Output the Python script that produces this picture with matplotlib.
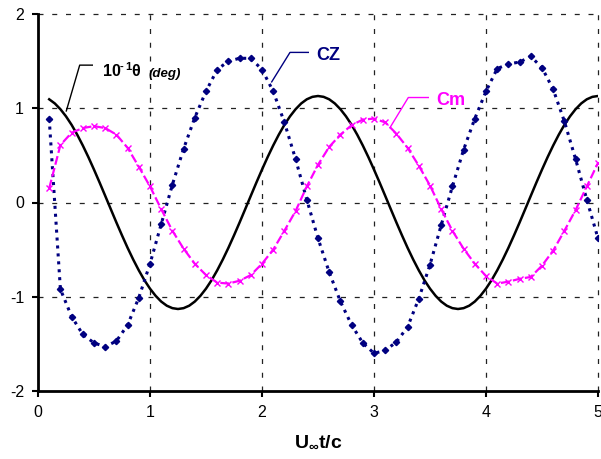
import numpy as np
import matplotlib
matplotlib.use("Agg")
import matplotlib.pyplot as plt

plt.rcParams['font.family'] = ['Liberation Sans', 'DejaVu Sans']
plt.rcParams['axes.unicode_minus'] = False
plt.rcParams['mathtext.fontset'] = 'custom'
plt.rcParams['mathtext.rm'] = 'Liberation Sans'
plt.rcParams['mathtext.bf'] = 'Liberation Sans:bold'
plt.rcParams['mathtext.it'] = 'Liberation Sans:italic'

# ---- data ----
# 10^-1 theta (deg), sampled every 0.05 from t = 0.1 to 5.0
theta_half = [1.095, 1.051, 0.990, 0.914, 0.824, 0.720, 0.605, 0.481, 0.349, 0.212,
              0.071, -0.071, -0.212, -0.349, -0.481, -0.605, -0.720, -0.824, -0.914,
              -0.990, -1.051, -1.095, -1.121, -1.130, -1.121, -1.095, -1.051, -0.990,
              -0.914, -0.824, -0.720, -0.605, -0.481, -0.349, -0.212, -0.071, 0.071,
              0.212, 0.349, 0.481, 0.605, 0.720, 0.824, 0.914, 0.990, 1.051, 1.095,
              1.121, 1.130]
theta_second = [1.121, 1.095, 1.051, 0.990, 0.914, 0.824, 0.720, 0.605, 0.481, 0.349,
                0.212, 0.071, -0.071, -0.212, -0.349, -0.481, -0.605, -0.720, -0.824,
                -0.914, -0.990, -1.051, -1.095, -1.121, -1.130, -1.121, -1.095, -1.051,
                -0.990, -0.914, -0.824, -0.720, -0.605, -0.481, -0.349, -0.212, -0.071,
                0.071, 0.212, 0.349, 0.481, 0.605, 0.720, 0.824, 0.914, 0.990, 1.051,
                1.095, 1.121, 1.130]
theta = theta_half + theta_second
t_theta = np.linspace(0.1, 5.0, len(theta))

# CZ and Cm, sampled every 0.1 from t = 0.1 to 5.0
cz = [0.89, -0.92, -1.21, -1.40, -1.49, -1.53, -1.47, -1.30, -1.01, -0.65,
      -0.23, 0.19, 0.57, 0.90, 1.18, 1.41, 1.50, 1.53, 1.53, 1.41,
      1.18, 0.85, 0.46, 0.03, -0.38, -0.74, -1.05, -1.30, -1.49, -1.60,
      -1.57, -1.48, -1.32, -1.02, -0.66, -0.24, 0.17, 0.56, 0.89, 1.18,
      1.42, 1.47, 1.49, 1.55, 1.43, 1.20, 0.86, 0.46, 0.03, -0.38]
cm = [0.15, 0.61, 0.74, 0.79, 0.81, 0.79, 0.72, 0.58, 0.38, 0.17,
      -0.07, -0.30, -0.49, -0.65, -0.77, -0.85, -0.86, -0.83, -0.77, -0.65,
      -0.50, -0.30, -0.09, 0.17, 0.40, 0.59, 0.72, 0.82, 0.88, 0.89,
      0.85, 0.73, 0.58, 0.39, 0.18, -0.07, -0.30, -0.49, -0.65, -0.78,
      -0.86, -0.84, -0.81, -0.79, -0.67, -0.51, -0.30, -0.08, 0.17, 0.42]
t_coef = np.linspace(0.1, 5.0, len(cz))

xticks = [0, 1, 2, 3, 4, 5]
yticks = [-2, -1, 0, 1, 2]

NAVY = '#000080'
MAG = '#FF00FF'

fig = plt.figure(figsize=(6.01, 4.59), dpi=100)
ax = fig.add_axes([38/601, 68/459, 560/601, 377/459])
ax.set_xlim(0, 5)
ax.set_ylim(-2, 2)

# grid
for xv in xticks[1:]:
    ax.plot([xv, xv], [-2, 2], color='#222222', lw=0.9, ls=(0, (4, 7)), zorder=1, clip_on=False)
for yv in yticks[1:]:
    ax.plot([0, 5], [yv, yv], color='#222222', lw=0.9, ls=(0, (4, 7)), zorder=1, clip_on=False)

ax.plot(t_theta, theta, color='black', lw=1.8, zorder=3)
ax.plot(t_coef, cz, color=NAVY, lw=2.2, ls=(0, (1.0, 1.6)), marker='D', ms=3.2,
        mfc=NAVY, mec=NAVY, zorder=4)
ax.plot(t_coef, cm, color=MAG, lw=1.6, ls=(0, (4, 1.5)), marker='x', ms=3.8,
        mew=1.0, zorder=4)

def px(x, y):
    return ((x - 38) / 112.0, (202 - y) / 94.0)

def leader(points, color):
    xs, ys = zip(*[px(*p) for p in points])
    ax.plot(xs, ys, color=color, lw=1.0, zorder=5)

leader([(66.3, 110.7), (79.7, 65), (92.3, 65)], 'black')
leader([(271.7, 81.7), (290, 52.3), (308.3, 52.3)], NAVY)
leader([(390, 127.3), (408.3, 97.3), (428.3, 97.3)], MAG)

def label(x, y, s, **kw):
    xx, yy = px(x, y)
    ax.text(xx, yy, s, va='baseline', ha='left', zorder=6, **kw)

label(103, 76, '10', fontsize=11.5, fontweight='bold')
label(120, 70, '-', fontsize=8, fontweight='bold')
label(125, 70, '1', fontsize=8, fontweight='bold')
label(131, 76, 'θ', fontsize=11.5, fontweight='bold')
label(149, 77, '(deg)', fontsize=9.5, fontweight='bold', style='italic')
label(316, 60, 'CZ', fontsize=13, fontweight='bold', color=NAVY)
label(436, 105, 'Cm', fontsize=13, fontweight='bold', color=MAG)

for s in ['top', 'right']:
    ax.spines[s].set_visible(False)
for s in ['left', 'bottom']:
    ax.spines[s].set_linewidth(2)
    ax.spines[s].set_color('black')

ax.set_xticks(xticks)
ax.set_yticks(yticks)
ax.set_xticklabels([str(v) for v in xticks])
ax.set_yticklabels([str(v) for v in yticks])
ax.tick_params(direction='out', length=4, width=1.5, labelsize=11.5, pad=6)

ax.set_xlabel(r'$\mathbf{U_{\infty}t/c}$', fontsize=14, labelpad=10)

fig.savefig('out.png', dpi=100)
